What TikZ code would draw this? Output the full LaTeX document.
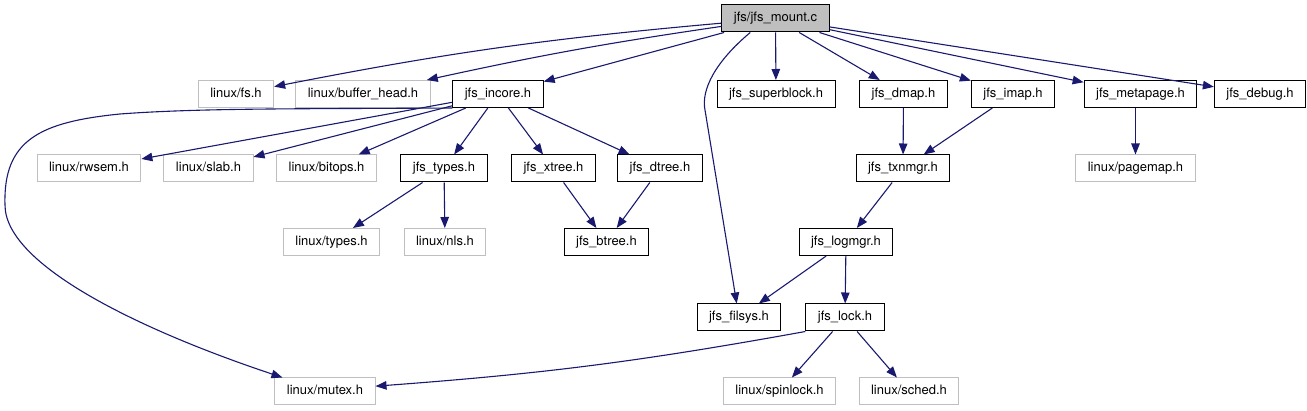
\documentclass[tikz,border=0pt]{standalone}
\usepackage{fontspec}
\setmainfont{TeX Gyre Heros}
\usetikzlibrary{arrows.meta}
\definecolor{edgeblue}{HTML}{191970}
\definecolor{boxgrey}{HTML}{BFBFBF}
\tikzset{
  hfile/.style={draw, minimum height=27pt, inner xsep=12pt, inner ysep=0pt, text height=9.5pt, text depth=3pt, font=\fontsize{13}{15}\selectfont, line width=1pt},
  kmain/.style={hfile, draw=black, fill=boxgrey},
  klocal/.style={hfile, draw=black},
  ksys/.style={hfile, draw=boxgrey},
  flow/.style={-{Triangle[length=11pt, width=8.5pt]}, draw=edgeblue, line width=1.1pt},
}
\begin{document}
\begin{tikzpicture}[x=1pt, y=-1pt]
    \useasboundingbox (0,0) rectangle (1307,411);
    \node[kmain] (mount) at (775.5,18.5) {jfs/jfs\_mount.c};
    \node[ksys] (fs) at (236,94) {linux/fs.h};
    \node[ksys] (bufhead) at (363,94) {linux/buffer\_head.h};
    \node[klocal] (incore) at (498,94) {jfs\_incore.h};
    \node[klocal] (superblock) at (776,94) {jfs\_superblock.h};
    \node[klocal] (dmap) at (903.5,94) {jfs\_dmap.h};
    \node[klocal] (imap) at (1013,94) {jfs\_imap.h};
    \node[klocal] (metapage) at (1140.5,94) {jfs\_metapage.h};
    \node[klocal] (debug) at (1260,94) {jfs\_debug.h};
    \node[ksys] (rwsem) at (89,168.5) {linux/rwsem.h};
    \node[ksys] (slab) at (208.5,168.5) {linux/slab.h};
    \node[ksys] (bitops) at (326.5,168.5) {linux/bitops.h};
    \node[klocal] (jtypes) at (444,168.5) {jfs\_types.h};
    \node[klocal] (xtree) at (553.5,168.5) {jfs\_xtree.h};
    \node[klocal] (dtree) at (660,168.5) {jfs\_dtree.h};
    \node[klocal] (txnmgr) at (903,168.5) {jfs\_txnmgr.h};
    \node[ksys] (pagemap) at (1135.5,168.5) {linux/pagemap.h};
    \node[ksys] (ltypes) at (331.5,242) {linux/types.h};
    \node[ksys] (nls) at (445,242) {linux/nls.h};
    \node[klocal] (btree) at (606.5,242) {jfs\_btree.h};
    \node[klocal] (logmgr) at (846,242) {jfs\_logmgr.h};
    \node[klocal] (filsys) at (739,317.5) {jfs\_filsys.h};
    \node[klocal] (lock) at (845,317.5) {jfs\_lock.h};
    \node[ksys] (mutex) at (325,391.5) {linux/mutex.h};
    \node[ksys] (spinlock) at (779.5,391.5) {linux/spinlock.h};
    \node[ksys] (sched) at (909,391.5) {linux/sched.h};
    \draw[flow] (mount) to[bend right=3] (fs);
    \draw[flow] (mount) to[bend right=2] (bufhead);
    \draw[flow] (mount) -- (incore);
    \draw[flow] (mount.209) .. controls (715,62) and (701,90) .. (705,110) -- (filsys);
    \draw[flow] (mount) -- (superblock);
    \draw[flow] (mount) -- (dmap);
    \draw[flow] (mount) -- (imap);
    \draw[flow] (mount) -- (metapage);
    \draw[flow] (mount) -- (debug);
    \draw[flow] (incore.south west) .. controls (300,109) and (200,108) .. (120,114)
      .. controls (40,122) and (3,140) .. (5,205)
      .. controls (5,265) and (140,330) .. ([xshift=8pt]mutex.north west);
    \draw[flow] (incore) -- (rwsem);
    \draw[flow] (incore) -- (slab);
    \draw[flow] (incore) -- (bitops);
    \draw[flow] (incore) -- (jtypes);
    \draw[flow] (incore) -- (xtree);
    \draw[flow] (incore) -- (dtree);
    \draw[flow] (jtypes) -- (ltypes);
    \draw[flow] (jtypes) -- (nls);
    \draw[flow] (xtree) -- (btree);
    \draw[flow] (dtree) -- (btree);
    \draw[flow] (dmap) -- (txnmgr);
    \draw[flow] (imap) -- (txnmgr);
    \draw[flow] (pagemap|-metapage.south) -- (pagemap);
    \draw[flow] (txnmgr) -- (logmgr);
    \draw[flow] (logmgr) -- (filsys);
    \draw[flow] (logmgr) -- (lock);
    \draw[flow] (lock.south west) to[bend left=3] (mutex.6);
    \draw[flow] (lock) -- (spinlock);
    \draw[flow] (lock) -- (sched);
  \end{tikzpicture}
\end{document}
